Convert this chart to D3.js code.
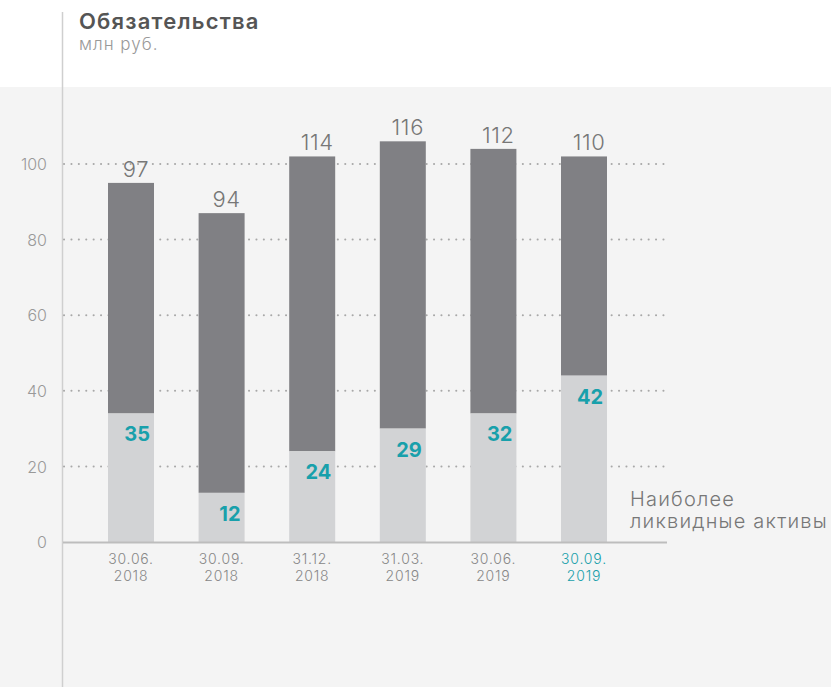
<!DOCTYPE html>
<html>
<head>
<meta charset="utf-8">
<script src="https://cdn.jsdelivr.net/npm/d3@7"></script>
<style>
  html, body { margin: 0; padding: 0; background: #fff; }
  svg { display: block; font-family: Inter, "Noto Sans", sans-serif; }
</style>
</head>
<body>
<div id="chart"></div>
<script>
// Data
const dates = ["30.06.2018", "30.09.2018", "31.12.2018", "31.03.2019", "30.06.2019", "30.09.2019"];
const dateLines = [["30.06.", "2018"], ["30.09.", "2018"], ["31.12.", "2018"], ["31.03.", "2019"], ["30.06.", "2019"], ["30.09.", "2019"]];
const liabilities = [95, 87, 102, 106, 104, 102];      // bar height as drawn
const liquidAssets = [34, 13, 24, 30, 34, 44];
const liabilityLabels = ["97", "94", "114", "116", "112", "110"];
const liquidLabels = ["35", "12", "24", "29", "32", "42"];
const yTicks = [0, 20, 40, 60, 80, 100];

// Config
const W = 831, H = 687;
const darkColor = "#808084";
const lightColor = "#d2d3d5";
const teal = "#18a0ab";
const barWidth = 46;

const svg = d3.select("#chart")
    .append("svg")
    .attr("width", W)
    .attr("height", H);

// gray panel
svg.append("rect")
    .attr("x", 0).attr("y", 87)
    .attr("width", W).attr("height", H - 87)
    .attr("fill", "#f4f4f4");

// vertical divider
svg.append("line")
    .attr("x1", 62.5).attr("x2", 62.5)
    .attr("y1", 12).attr("y2", H)
    .attr("stroke", "#cfcfcf")
    .attr("stroke-width", 1.5);

// title
svg.append("text")
    .attr("x", 79).attr("y", 29)
    .style("font-size", "22px")
    .style("font-weight", 600)
    .style("letter-spacing", "1.2px")
    .style("fill", "#555")
    .text("Обязательства");
svg.append("text")
    .attr("x", 79).attr("y", 50)
    .style("font-size", "17px")
    .style("font-weight", 300)
    .style("letter-spacing", "1px")
    .style("fill", "#999")
    .text("млн руб.");

// scales
const x = d3.scalePoint().domain(dates).range([131, 584]);
const y = d3.scaleLinear().domain([0, 100]).range([542, 164]);

// grid
svg.append("g")
    .selectAll("line")
    .data(yTicks.filter(d => d > 0))
    .join("line")
    .attr("x1", 64).attr("x2", 670)
    .attr("y1", d => y(d)).attr("y2", d => y(d))
    .attr("stroke", "#a8a8a8")
    .attr("stroke-width", 2)
    .attr("stroke-linecap", "round")
    .attr("stroke-dasharray", "0.1,7.3");

// y axis labels
const yAxis = d3.axisLeft(y).tickValues(yTicks).tickSize(0).tickPadding(0);
svg.append("g")
    .attr("transform", "translate(47,0)")
    .call(yAxis)
    .call(g => g.select(".domain").remove())
    .call(g => g.selectAll("text")
        .attr("dy", "0.35em")
        .style("font-family", "Inter, 'Noto Sans', sans-serif")
        .style("font-size", "16px")
        .style("font-weight", 300)
        .style("fill", "#999"));

// bars
const bars = svg.append("g");
bars.selectAll(".dark")
    .data(dates)
    .join("rect")
    .attr("class", "dark")
    .attr("x", d => x(d) - barWidth / 2)
    .attr("width", barWidth)
    .attr("y", (d, i) => y(liabilities[i]))
    .attr("height", (d, i) => y(liquidAssets[i]) - y(liabilities[i]))
    .attr("fill", darkColor);
bars.selectAll(".light")
    .data(dates)
    .join("rect")
    .attr("class", "light")
    .attr("x", d => x(d) - barWidth / 2)
    .attr("width", barWidth)
    .attr("y", (d, i) => y(liquidAssets[i]))
    .attr("height", (d, i) => y(0) - y(liquidAssets[i]))
    .attr("fill", lightColor);

// x axis line
svg.append("line")
    .attr("x1", 63).attr("x2", 667)
    .attr("y1", y(0) + 0.5).attr("y2", y(0) + 0.5)
    .attr("stroke", "#bdbdbd")
    .attr("stroke-width", 2);

// total labels
svg.append("g")
    .selectAll("text")
    .data(dates)
    .join("text")
    .attr("x", d => x(d) + 5)
    .attr("y", (d, i) => y(liabilities[i]) - 6)
    .attr("text-anchor", "middle")
    .style("font-size", "22px")
    .style("font-weight", 300)
    .style("letter-spacing", "0.6px")
    .style("fill", "#777")
    .text((d, i) => liabilityLabels[i]);

// liquid asset labels
svg.append("g")
    .selectAll("text")
    .data(dates)
    .join("text")
    .attr("x", d => x(d) + barWidth / 2 - 4)
    .attr("y", (d, i) => y(liquidAssets[i]) + 28)
    .attr("text-anchor", "end")
    .style("font-size", "20px")
    .style("font-weight", 700)
    .style("fill", teal)
    .text((d, i) => liquidLabels[i]);

// category labels, two lines each
const catColor = (i) => i === dates.length - 1 ? teal : "#888";
[0, 1].forEach(line => {
    svg.append("g")
        .selectAll("text")
        .data(dates)
        .join("text")
        .attr("x", d => x(d))
        .attr("y", 564 + line * 17)
        .attr("text-anchor", "middle")
        .style("font-size", "14px")
        .style("font-weight", 300)
        .style("letter-spacing", "0.8px")
        .style("fill", (d, i) => catColor(i))
        .text((d, i) => dateLines[i][line]);
});

// legend
const legendLines = ["Наиболее", "ликвидные активы"];
svg.append("g")
    .selectAll("text")
    .data(legendLines)
    .join("text")
    .attr("x", 630)
    .attr("y", (d, i) => 506 + i * 22)
    .style("font-size", "20px")
    .style("font-weight", 300)
    .style("letter-spacing", "1.2px")
    .style("fill", "#777")
    .text(d => d);
</script>
</body>
</html>
